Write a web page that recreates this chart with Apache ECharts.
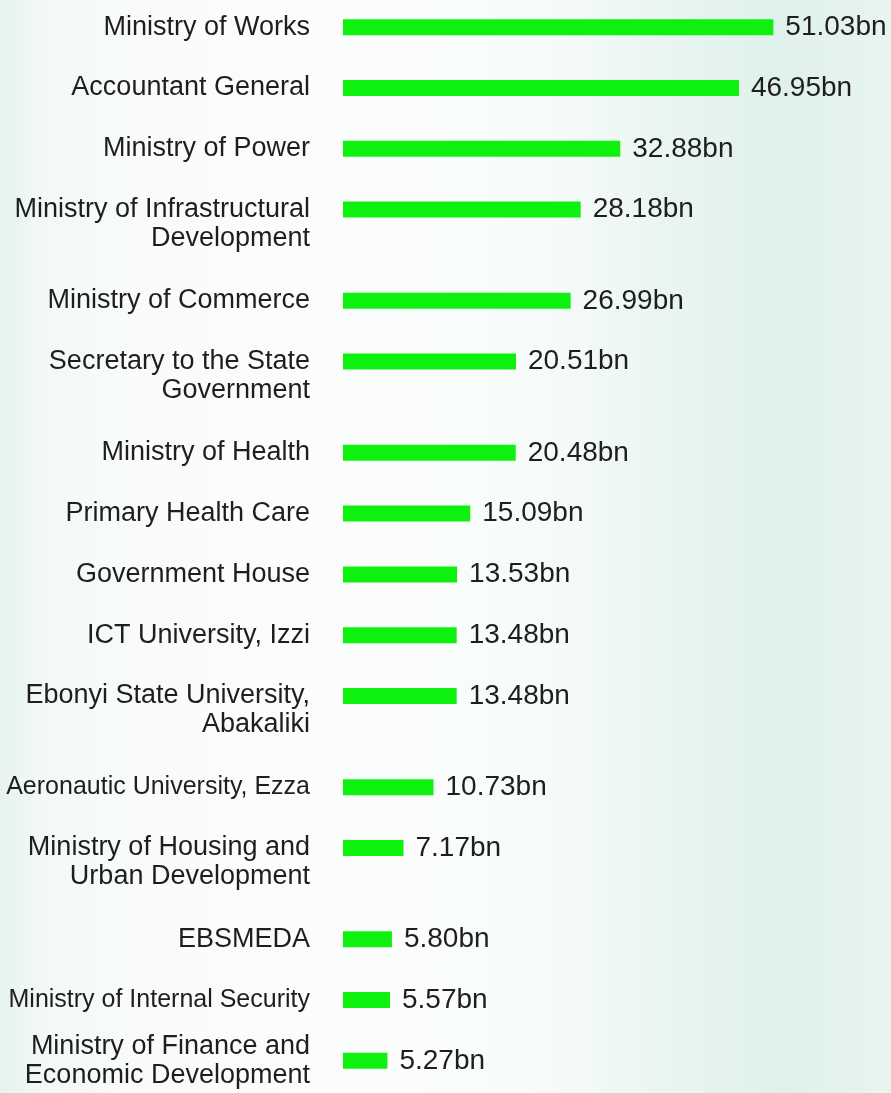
<!DOCTYPE html>
<html>
<head>
<meta charset="utf-8">
<script src="https://cdn.jsdelivr.net/npm/echarts@6/dist/echarts.min.js"></script>
<style>
html,body{margin:0;padding:0;}
#chart{width:891px;height:1093px;}
</style>
</head>
<body>
<div id="chart"></div>
<script>
const categories = [
  "Ministry of Works",
  "Accountant General",
  "Ministry of Power",
  "Ministry of Infrastructural\nDevelopment",
  "Ministry of Commerce",
  "Secretary to the State\nGovernment",
  "Ministry of Health",
  "Primary Health Care",
  "Government House",
  "ICT University, Izzi",
  "Ebonyi State University,\nAbakaliki",
  "Aeronautic University, Ezza",
  "Ministry of Housing and\nUrban Development",
  "EBSMEDA",
  "Ministry of Internal Security",
  "Ministry of Finance and\nEconomic Development"
];
const values = [51.03, 46.95, 32.88, 28.18, 26.99, 20.51, 20.48, 15.09, 13.53, 13.48, 13.48, 10.73, 7.17, 5.80, 5.57, 5.27];
const unit = "bn";

// Expand into slots: two-line labels take an extra spacer slot
const slotNames = [], slotValues = [];
categories.forEach((c, i) => {
  slotNames.push(c);
  slotValues.push(values[i]);
  if (i < categories.length - 1) {
    const gaps = c.includes("\n") ? 2 : 1;
    for (let k = 0; k < gaps; k++) {
      slotNames.push("__gap" + i + "_" + k);
      slotValues.push("-");
    }
  }
});
const lastSlot = slotNames.length - 1;

const FONT = "'Liberation Sans', Arial, Helvetica, sans-serif";
const chart = echarts.init(document.getElementById("chart"), null, {renderer: "canvas"});
chart.setOption({
  animation: false,
  backgroundColor: {
    type: "linear", x: 0, y: 0, x2: 1, y2: 0,
    colorStops: [
      {offset: 0, color: "#e6f3ed"},
      {offset: 0.05, color: "#f3f9f6"},
      {offset: 0.15, color: "#f8fbfa"},
      {offset: 0.4, color: "#fcfefd"},
      {offset: 0.62, color: "#f6fbf9"},
      {offset: 0.75, color: "#e9f5f0"},
      {offset: 0.88, color: "#dff1ea"},
      {offset: 1, color: "#e8f5ef"}
    ]
  },
  grid: {left: 343, right: 42, top: 12, bottom: 17, containLabel: false, outerBoundsMode: "none"},
  xAxis: {type: "value", min: 0, max: 60, show: false},
  yAxis: {
    type: "category",
    inverse: true,
    data: slotNames,
    axisLine: {show: false},
    axisTick: {show: false},
    splitLine: {show: false},
    axisLabel: {
      margin: 33,
      interval: 0,
      hideOverlap: false,
      fontFamily: FONT,
      fontSize: 27,
      lineHeight: 29,
      color: "#1e1e1e",
      formatter: function (v, idx) {
        if (v.indexOf("__gap") === 0) return "";
        if (v.indexOf("\n") >= 0) return idx === lastSlot ? v : "\n" + v;
        if (v.length > 25) return "{s|" + v + "}";
        return v;
      },
      rich: {
        s: {fontSize: 25, fontFamily: FONT, color: "#1e1e1e"}
      }
    }
  },
  series: [{
    type: "bar",
    data: slotValues,
    barWidth: 16,
    itemStyle: {color: "#0ef00e"},
    label: {
      show: true,
      position: "right",
      distance: 12,
      fontFamily: FONT,
      fontSize: 28,
      color: "#1e1e1e",
      formatter: function (p) { return Number(p.value).toFixed(2) + unit; }
    }
  }]
});
</script>
</body>
</html>
